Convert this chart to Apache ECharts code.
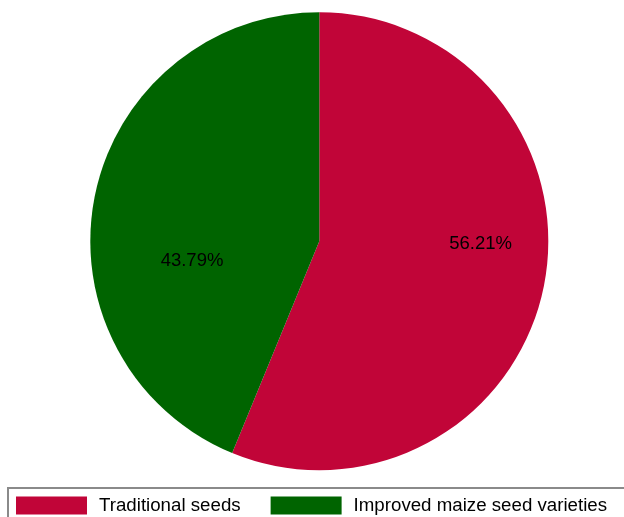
<!DOCTYPE html>
<html>
<head>
<meta charset="utf-8">
<script src="https://cdn.jsdelivr.net/npm/echarts@6/dist/echarts.min.js"></script>
<style>
  html, body { margin: 0; padding: 0; background: #fff; }
  #chart { width: 624px; height: 517px; }
</style>
</head>
<body>
<div id="chart"></div>
<script>
// Share of farmers by seed type (percent)
const categories = ['Traditional seeds', 'Improved maize seed varieties'];
const shares = [56.21, 43.79];
const colors = ['#c10538', '#006400'];
const labelOffsets = [[46, -20], [-12, 42]];

const chart = echarts.init(document.getElementById('chart'), null, { renderer: 'canvas' });

const FONT = '"Liberation Sans", Arial, sans-serif';

chart.setOption({
  animation: false,
  backgroundColor: '#ffffff',
  legend: {
    left: 16,
    top: 496,
    orient: 'horizontal',
    icon: 'rect',
    itemWidth: 71,
    itemHeight: 18,
    itemGap: 30,
    padding: 0,
    textStyle: {
      fontFamily: FONT,
      fontSize: 18.7,
      color: '#000',
      padding: [0, 0, 0, 7]
    },
    data: categories
  },
  graphic: [{
    type: 'rect',
    shape: { x: 8, y: 488, width: 700, height: 60 },
    style: { fill: 'none', stroke: '#8a8a8a', lineWidth: 2 },
    silent: true,
    z: 0
  }],
  series: [{
    type: 'pie',
    center: [319.3, 241.2],
    radius: [0, 229],
    startAngle: 90,
    clockwise: true,
    avoidLabelOverlap: false,
    itemStyle: { borderWidth: 0 },
    label: {
      show: true,
      position: 'inside',
      fontFamily: FONT,
      fontSize: 18.5,
      color: '#000',
      formatter: p => p.value.toFixed(2) + '%'
    },
    labelLine: { show: false },
    emphasis: { disabled: true },
    data: categories.map((name, i) => ({
      name: name,
      value: shares[i],
      itemStyle: { color: colors[i] },
      label: { offset: labelOffsets[i] }
    }))
  }]
});
</script>
</body>
</html>
